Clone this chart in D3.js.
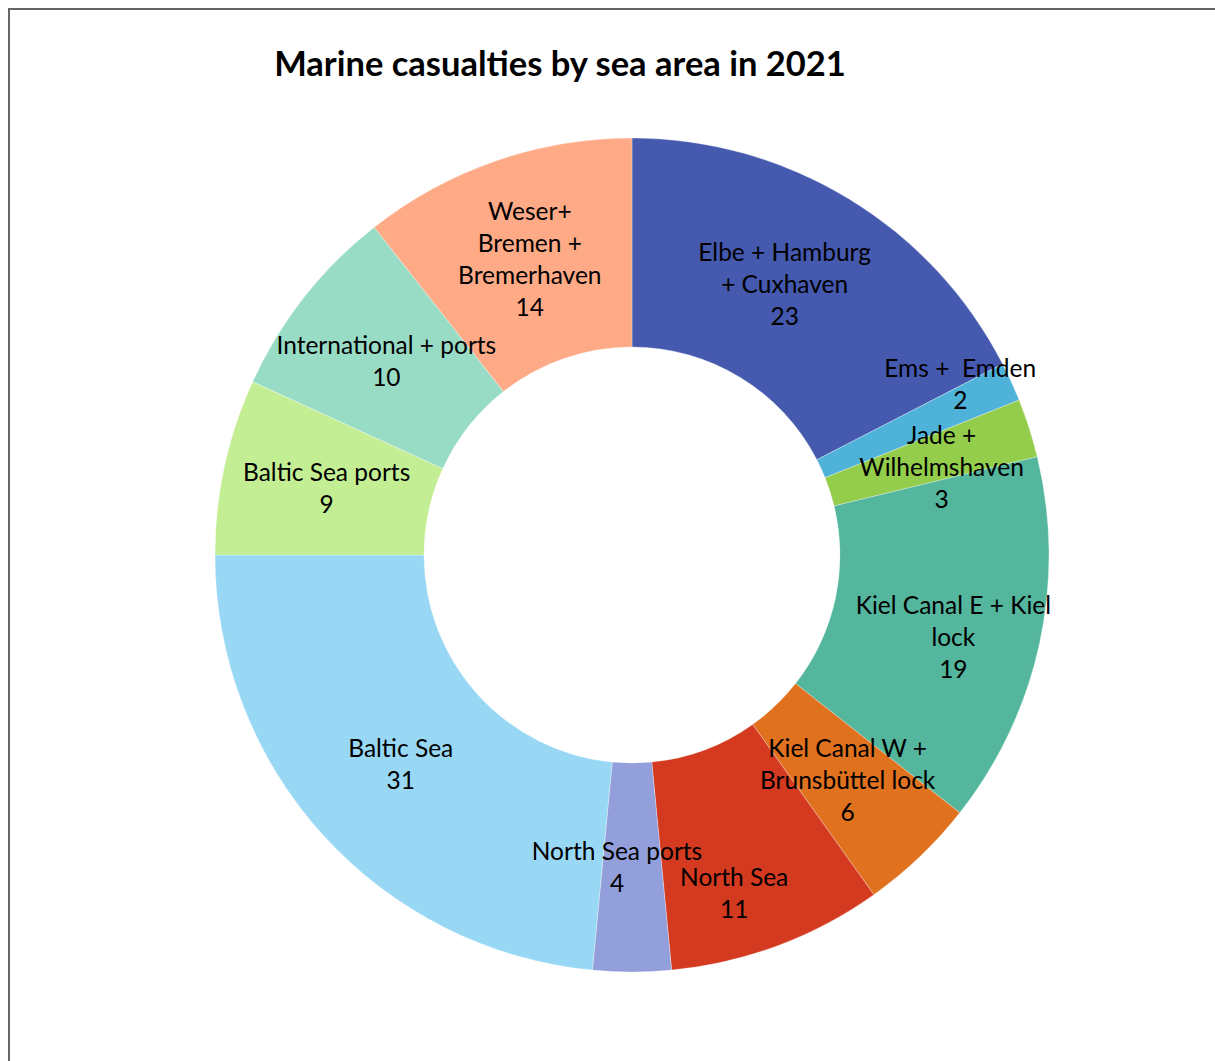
<!DOCTYPE html>
<html>
<head>
<meta charset="utf-8">
<script src="https://cdn.jsdelivr.net/npm/d3@7"></script>
<style>
    body { margin: 0; background: #fff; }
    svg { display: block; }
</style>
</head>
<body>
<svg id="donut-chart"></svg>
<script>
// Chart data (sea areas, clockwise from 12 o'clock)
const sea_areas = [
    "Elbe + Hamburg + Cuxhaven", "Ems + Emden", "Jade + Wilhelmshaven",
    "Kiel Canal E + Kiel lock", "Kiel Canal W + Brunsbüttel lock", "North Sea",
    "North Sea ports", "Baltic Sea", "Baltic Sea ports", "International + ports",
    "Weser+ Bremen + Bremerhaven"
];
const casualties = [23, 2, 3, 19, 6, 11, 4, 31, 9, 10, 14];
// Label lines as they wrap in the original chart
const label_lines = [
    ["Elbe + Hamburg", "+ Cuxhaven"],
    ["Ems +  Emden"],
    ["Jade +", "Wilhelmshaven"],
    ["Kiel Canal E + Kiel", "lock"],
    ["Kiel Canal W +", "Brunsbüttel lock"],
    ["North Sea"],
    ["North Sea ports"],
    ["Baltic Sea"],
    ["Baltic Sea ports"],
    ["International + ports"],
    ["Weser+", "Bremen +", "Bremerhaven"]
];
const slice_colors = [
    "#4559AF", "#4FB3D9", "#93CD4B", "#53B69D", "#E0711F", "#D43A1F",
    "#939FDA", "#99D8F5", "#C3EE93", "#99DCC5", "#FEAA87"
];

// Small nudges for labels that the original moved away from the centroid
const label_nudge = {
    "Elbe + Hamburg + Cuxhaven": [-10, -3],
    "Ems + Emden": [44, -40],
    "Jade + Wilhelmshaven": [12, 8],
    "Kiel Canal E + Kiel lock": [16, 17],
    "North Sea": [-7, 46],
    "North Sea ports": [-15, 0]
};

// Dimensions
const width = 1215, height = 1061;
const cx = 632, cy = 555;
const outer_radius = 417, inner_radius = 208;
const line_height = 32;

const svg = d3.select("#donut-chart")
    .attr("width", width)
    .attr("height", height);

// Chart area border (runs off the right and bottom of the picture)
svg.append("rect")
    .attr("x", 9)
    .attr("y", 9)
    .attr("width", 1400)
    .attr("height", 1400)
    .style("fill", "none")
    .style("stroke", "#666")
    .style("stroke-width", 2);

// Title
svg.append("text")
    .attr("x", 560)
    .attr("y", 76)
    .attr("text-anchor", "middle")
    .style("font-family", "Lato, 'Open Sans', sans-serif")
    .style("font-weight", "bold")
    .style("font-size", "34.5px")
    .style("fill", "#000")
    .text("Marine casualties by sea area in 2021");

// Build the pie layout, keeping data order (clockwise from the top)
const pie_data = d3.pie()
    .sort(null)
    .value(d => d.value)(sea_areas.map((name, i) => ({
        name: name,
        value: casualties[i],
        lines: label_lines[i],
        color: slice_colors[i]
    })));

const arc = d3.arc()
    .innerRadius(inner_radius)
    .outerRadius(outer_radius);

const donut = svg.append("g")
    .attr("transform", `translate(${cx}, ${cy})`);

// Slices
donut.selectAll("path")
    .data(pie_data)
    .join("path")
    .attr("d", arc)
    .style("fill", d => d.data.color)
    .style("stroke", "#fff")
    .style("stroke-width", 0.3);

// Labels: name lines then the value, centred on the slice centroid
const labels = donut.selectAll("text.label")
    .data(pie_data)
    .join("text")
    .attr("class", "label")
    .attr("text-anchor", "middle")
    .style("font-family", "Lato, 'Open Sans', sans-serif")
    .style("font-size", "24.5px")
    .style("white-space", "pre")
    .style("fill", "#000");

labels.each(function (d) {
    const lines = d.data.lines.concat([String(d.data.value)]);
    const c = arc.centroid(d);
    const nudge = label_nudge[d.data.name] || [0, 0];
    const x = c[0] + nudge[0];
    const y0 = c[1] + nudge[1] - (lines.length - 1) * line_height / 2 + 8;
    d3.select(this).selectAll("tspan")
        .data(lines)
        .join("tspan")
        .attr("x", x)
        .attr("y", (l, i) => y0 + i * line_height)
        .text(l => l);
});
</script>
</body>
</html>
